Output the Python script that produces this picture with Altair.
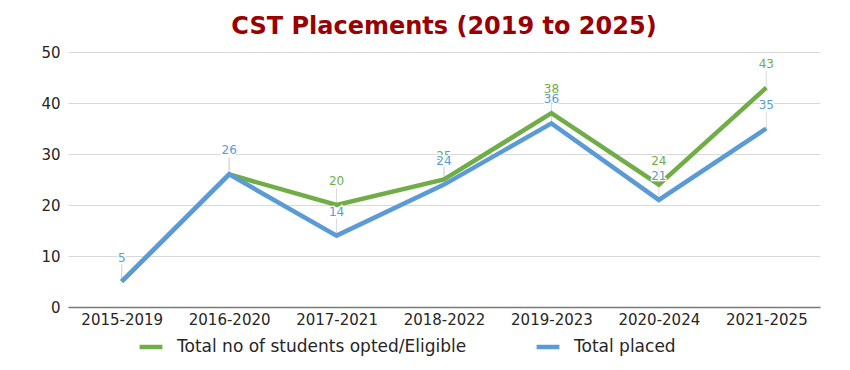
import altair as alt
import pandas as pd

years = ["2015-2019", "2016-2020", "2017-2021", "2018-2022", "2019-2023", "2020-2024", "2021-2025"]
opted = [5, 26, 20, 25, 38, 24, 43]
placed = [5, 26, 14, 24, 36, 21, 35]
series_names = ["Total no of students opted/Eligible", "Total placed"]
colors = ["#70AD47", "#5B9BD5"]

rows = []
for name, vals in zip(series_names, [opted, placed]):
    for yr, v in zip(years, vals):
        rows.append({"year": yr, "value": v, "series": name})
df = pd.DataFrame(rows)

x = alt.X("year:N", sort=years, title=None,
          scale=alt.Scale(type="point", padding=0.5),
          axis=alt.Axis(labelAngle=0, ticks=False, domainColor="#7a7a7a", domainWidth=1.5,
                        labelFont="DejaVu Sans", labelFontSize=15, labelColor="#262626",
                        labelPadding=5, grid=False))
y = alt.Y("value:Q", title=None,
          scale=alt.Scale(domain=[0, 50]),
          axis=alt.Axis(values=[0, 10, 20, 30, 40, 50], ticks=False, domain=False,
                        gridColor="#d9d9d9", gridWidth=1, labelFont="DejaVu Sans",
                        labelFontSize=15, labelColor="#262626", labelPadding=8))
color = alt.Color("series:N", title=None,
                  scale=alt.Scale(domain=series_names, range=colors),
                  legend=alt.Legend(orient="none", legendX=69, legendY=281,
                                    direction="horizontal", symbolType="stroke",
                                    symbolStrokeWidth=4.5, symbolSize=520, labelFont="DejaVu Sans",
                                    labelFontSize=17, labelColor="#262626", columnPadding=60,
                                    labelOffset=12, labelLimit=0))

base = alt.Chart(df)

leaders = base.mark_rule(color="#d9d9d9", strokeWidth=1, y2Offset=-17).encode(
    x=x, y=y, y2="value:Q")

layers = [leaders]
for name in series_names:
    layers.append(base.transform_filter(alt.datum.series == name)
                  .mark_line(strokeWidth=4.5, strokeCap="butt")
                  .encode(x=x, y=y, color=color))
for name, c in zip(series_names, colors):
    sub = base.transform_filter(alt.datum.series == name)
    layers.append(sub.mark_text(dy=-24, fontSize=12, font="DejaVu Sans", stroke="white",
                                strokeWidth=2.5, fill="white")
                  .encode(x=x, y=y, text="value:Q"))
    layers.append(sub.mark_text(dy=-24, fontSize=12, font="DejaVu Sans", color=c)
                  .encode(x=x, y=y, text="value:Q"))

chart = alt.layer(*layers).properties(
    width=752, height=255,
    title=alt.TitleParams("CST Placements (2019 to 2025)", font="DejaVu Sans", fontSize=24,
                          fontWeight="bold", color="#990000", anchor="middle", offset=6),
    autosize=alt.AutoSizeParams(type="none"),
    padding={"left": 60, "top": 44, "right": 20, "bottom": 50},
).configure_view(stroke=None)

chart.save("out.html", embed_options={"renderer": "svg", "actions": False})
